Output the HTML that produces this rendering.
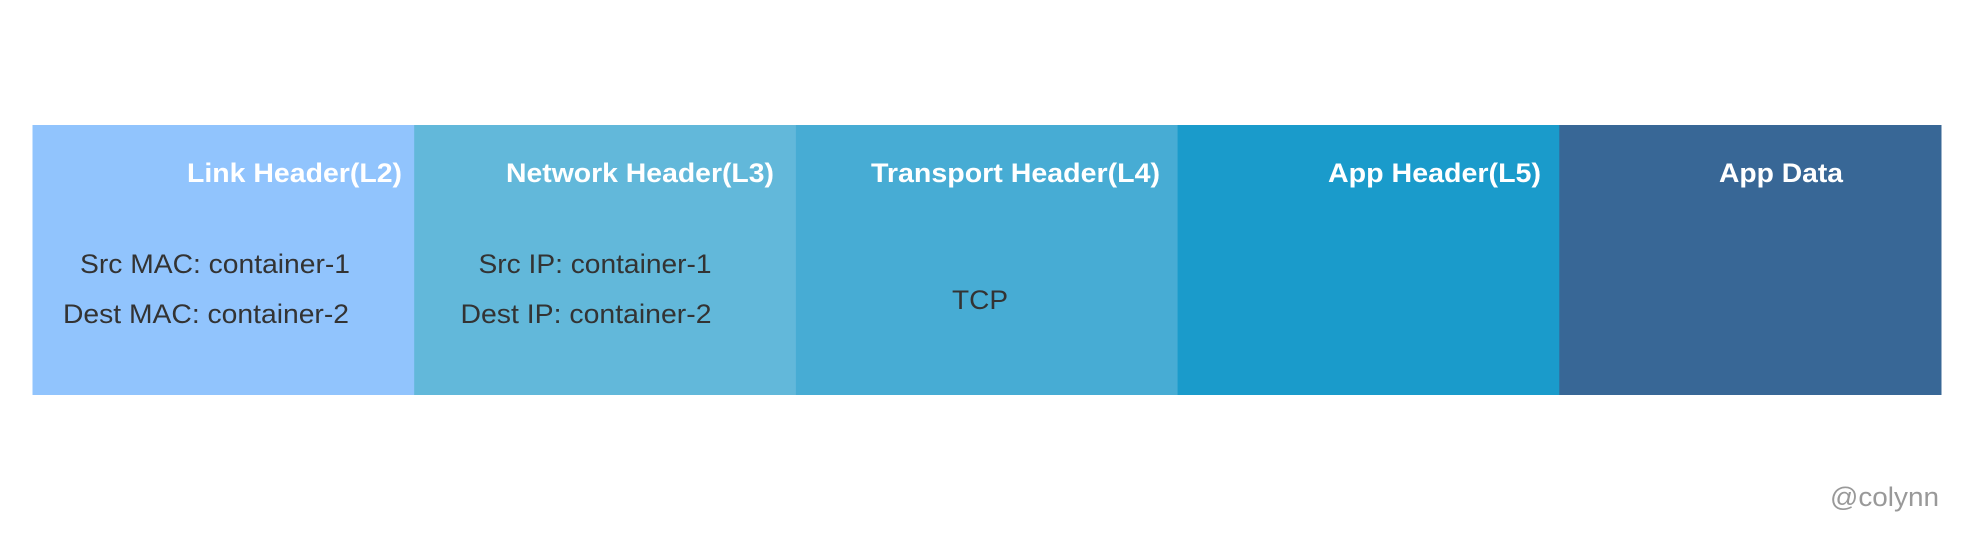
<!DOCTYPE html>
<html><head><meta charset="utf-8"><style>
html,body{margin:0;padding:0;background:#fff;}
svg{display:block;font-family:"Liberation Sans",Arial,sans-serif;}
</style></head><body>
<svg id="chart" width="1962" height="536" viewBox="0 0 1962 536"></svg>
<script>
const segments = ["Link Header(L2)","Network Header(L3)","Transport Header(L4)","App Header(L5)","App Data"];
const colors = ["#91c4fd","#62b8da","#47acd4","#1a9bcb","#386796"];
const titleWidths = [215,268,289,213,124];
const titleRight = [402,774,1160,1541,1843];
const details = [["Src MAC: container-1","Dest MAC: container-2"],["Src IP: container-1","Dest IP: container-2"],["TCP"],[],[]];
const detailWidths = [[270,286],[233,251],[56],[],[]];
const detailCenters = [[215,206],[595,586],[980],[],[]];
const svg = document.getElementById('chart');
const NS = 'http://www.w3.org/2000/svg';
const x0 = 32.5, x1 = 1941, y0 = 125, y1 = 395;
const w = (x1 - x0) / segments.length;
function xs(i){ return x0 + i * w; }
segments.forEach((s, i) => {
  const r = document.createElementNS(NS, 'rect');
  
  
  r.setAttribute('x', xs(i)); r.setAttribute('y', y0);
  r.setAttribute('width', w + 0.5); r.setAttribute('height', y1 - y0);
  r.setAttribute('fill', colors[i]);
  svg.appendChild(r);
  const t = document.createElementNS(NS, 'text');
  
  
  t.setAttribute('x', titleRight[i]); t.setAttribute('y', 182);
  t.setAttribute('text-anchor', 'end');
  t.setAttribute('fill', '#fff'); t.setAttribute('font-weight', 'bold'); t.setAttribute('font-size', '27');
  t.setAttribute('textLength', titleWidths[i]); t.setAttribute('lengthAdjust', 'spacingAndGlyphs');
  t.textContent = s;
  svg.appendChild(t);
  const lines = details[i];
  lines.forEach((l, j) => {
    const d = document.createElementNS(NS, 'text');
    
    
    d.setAttribute('x', detailCenters[i][j]);
    d.setAttribute('y', lines.length === 1 ? 309 : 273 + j * 50);
    d.setAttribute('text-anchor', 'middle');
    d.setAttribute('fill', '#333'); d.setAttribute('font-size', '27');
    d.setAttribute('textLength', detailWidths[i][j]); d.setAttribute('lengthAdjust', 'spacingAndGlyphs');
    d.textContent = l;
    svg.appendChild(d);
  });
});
const c = document.createElementNS(NS, 'text');


c.setAttribute('x', 1939); c.setAttribute('y', 506);
c.setAttribute('text-anchor', 'end'); c.setAttribute('fill', '#999'); c.setAttribute('font-size', '27');
c.setAttribute('textLength', 109); c.setAttribute('lengthAdjust', 'spacingAndGlyphs');
c.textContent = '@colynn';
svg.appendChild(c);
</script>
</body></html>
